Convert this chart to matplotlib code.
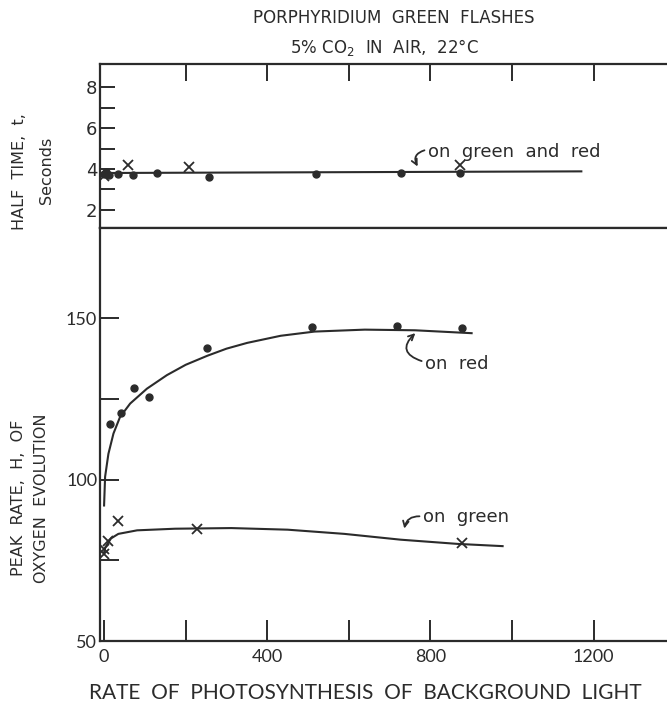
import numpy as np
import matplotlib.pyplot as plt

# half time panel (seconds)
ht_dot_x = [0, 5, 12, 35, 72, 130, 256, 520, 729, 872]
ht_dot_y = [3.75, 3.85, 3.7, 3.75, 3.7, 3.8, 3.6, 3.75, 3.8, 3.8]
ht_cross_x = [0, 59, 207, 872]
ht_cross_y = [3.65, 4.2, 4.1, 4.2]
ht_line_x = [0, 1170]
ht_line_y = [3.8, 3.88]

# peak rate, on red background
red_x = [15, 41, 74, 111, 253, 510, 717, 877]
red_y = [117.2, 120.7, 128.3, 125.5, 140.8, 147.3, 147.5, 146.9]
red_fit_x = [0, 2.5, 10.6, 23, 39, 64, 105, 154, 200, 253, 300, 351, 433, 516, 639, 762, 901]
red_fit_y = [92, 100.9, 108, 114.3, 119.4, 123.6, 128.2, 132.4, 135.6, 138.4, 140.6, 142.4, 144.6, 145.9, 146.5, 146.3, 145.4]

# peak rate, on green background
green_x = [0, 0, 10, 35, 227, 877]
green_y = [77, 78.5, 80.9, 87.1, 84.8, 80.4]
green_fit_x = [0, 3, 17, 35, 81, 174, 312, 450, 589, 727, 866, 977]
green_fit_y = [77.5, 79, 81.8, 83.2, 84.3, 84.8, 85, 84.5, 83.2, 81.4, 80.1, 79.4]

x_ticks = [0, 200, 400, 600, 800, 1000, 1200]
x_labels = ['0', '', '400', '', '800', '', '1200']

ink = '#2b2b2b'
plt.rcParams['font.family'] = 'DejaVu Sans'
plt.rcParams['text.color'] = ink
plt.rcParams['axes.edgecolor'] = ink
plt.rcParams['xtick.color'] = ink
plt.rcParams['ytick.color'] = ink

fig = plt.figure(figsize=(6.67, 7.03), dpi=100)
W, H = 667, 703
L, R = 100 / W, 1.0
top_t, sep, bot = 1 - 64 / H, 1 - 228 / H, 1 - 641 / H
ax1 = fig.add_axes([L, sep, R - L, top_t - sep])
ax2 = fig.add_axes([L, bot, R - L, sep - bot])

for ax in (ax1, ax2):
    ax.set_xlim(-10, 1380)
    ax.spines['right'].set_visible(False)
    for s in ax.spines.values():
        s.set_linewidth(1.6)

# top panel
ax1.plot(ht_line_x, ht_line_y, color=ink, lw=1.5)
ax1.plot(ht_dot_x, ht_dot_y, 'o', color=ink, ms=5)
ax1.plot(ht_cross_x, ht_cross_y, 'x', color=ink, ms=7, mew=1.3)
ax1.set_ylim(1.1, 9.15)
ax1.set_yticks([2, 4, 6, 8])
ax1.set_yticks([3, 5, 7], minor=True)
ax1.set_yticklabels(['2', '4', '6', '8'], fontsize=13)
ax1.tick_params(axis='y', which='both', direction='in', length=11, width=1.4, pad=2)
ax1.set_xticks(x_ticks[1:])
ax1.tick_params(axis='x', direction='in', length=12, width=1.4, top=True, bottom=False,
                labelbottom=False, labeltop=False)
ax1.text(795, 4.85, 'on  green  and  red', fontsize=13, va='center')
ax1.annotate('', xy=(772, 4.0), xytext=(792, 4.95),
             arrowprops=dict(arrowstyle='->', color=ink, lw=1.3,
                             connectionstyle='arc3,rad=0.7'))

# bottom panel
ax2.plot(red_fit_x, red_fit_y, color=ink, lw=1.5)
ax2.plot(red_x, red_y, 'o', color=ink, ms=5)
ax2.plot(green_fit_x, green_fit_y, color=ink, lw=1.5)
ax2.plot(green_x, green_y, 'x', color=ink, ms=7, mew=1.3)
ax2.set_ylim(50, 178)
ax2.set_yticks([50, 100, 150])
ax2.set_yticks([75, 125], minor=True)
ax2.set_yticklabels(['50', '100', '150'], fontsize=13, family='Lato')
ax2.tick_params(axis='y', which='both', direction='in', length=14, width=1.4, pad=2)
ax2.set_xticks(x_ticks)
ax2.set_xticklabels(x_labels, fontsize=13, family='Lato')
ax2.tick_params(axis='x', direction='in', length=15, width=1.4, pad=6)

ax2.text(787, 136, 'on  red', fontsize=13, va='center')
ax2.annotate('', xy=(768, 146), xytext=(785, 136.5),
             arrowprops=dict(arrowstyle='->', color=ink, lw=1.3,
                             connectionstyle='arc3,rad=-0.9'))
ax2.text(782, 88.4, 'on  green', fontsize=13, va='center')
ax2.annotate('', xy=(735, 84), xytext=(780, 88.6),
             arrowprops=dict(arrowstyle='->', color=ink, lw=1.3,
                             connectionstyle='arc3,rad=0.5'))

# titles and axis labels
t1 = fig.text(394 / W, 1 - 18 / H, 'PORPHYRIDIUM  GREEN  FLASHES', ha='center', va='center', fontsize=11)
t2 = fig.text(384 / W, 1 - 47 / H, '5% CO$_2$  IN  AIR,  22°C', ha='center', va='center', fontsize=11)
xl = fig.text(365 / W, 1 - 693 / H, 'RATE  OF  PHOTOSYNTHESIS  OF  BACKGROUND  LIGHT',
              ha='center', va='center', fontsize=14, family='Lato')
y1 = fig.text(20 / W, 1 - 172 / H, 'HALF  TIME,  t,', rotation=90, ha='center', va='center', fontsize=11)
y2 = fig.text(46 / W, 1 - 170 / H, 'Seconds', rotation=90, ha='center', va='center', fontsize=11)
y3 = fig.text(19 / W, 1 - 498 / H, 'PEAK  RATE,  H,  OF', rotation=90, ha='center', va='center', fontsize=11)
y4 = fig.text(42 / W, 1 - 498 / H, 'OXYGEN  EVOLUTION', rotation=90, ha='center', va='center', fontsize=11)

# scale the lettering to the measured lengths, without growing past a cap size
fig.canvas.draw()
for t, target, cap in [(t1, 322, 12), (t2, 217, 12), (xl, 590, 15), (y1, 130, 11.5),
                       (y2, 74, 11.5), (y3, 190, 11.5), (y4, 190, 11.5)]:
    bb = t.get_window_extent()
    length = max(bb.width, bb.height)
    t.set_fontsize(min(t.get_fontsize() * target / length, cap))

fig.savefig('out.png', dpi=100, facecolor='white')
